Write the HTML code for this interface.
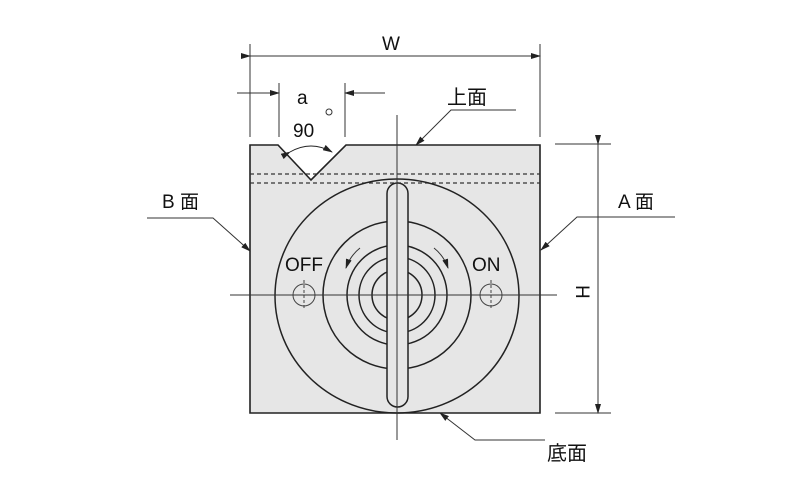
<!DOCTYPE html>
<html><head><style>
html,body{margin:0;padding:0;background:#fff;}
svg{display:block;}
text{font-family:"Liberation Sans","Noto Sans CJK JP",sans-serif;fill:#111;}
</style></head><body>
<svg width="798" height="502" viewBox="0 0 798 502" xmlns="http://www.w3.org/2000/svg">
<defs>
<marker id="ar" markerWidth="10" markerHeight="6" refX="9" refY="3" orient="auto" markerUnits="userSpaceOnUse">
<path d="M0,0 L10,3 L0,6 Z" fill="#222"/></marker>
</defs>
<!-- block -->
<path d="M250,145 L278,145 L311,180 L346,145 L540,145 L540,413 L250,413 Z" fill="#e6e6e6" stroke="#222" stroke-width="1.6"/>
<line x1="250" y1="174" x2="540" y2="174" stroke="#333" stroke-width="1.2" stroke-dasharray="4,3"/>
<line x1="250" y1="183" x2="540" y2="183" stroke="#333" stroke-width="1.2" stroke-dasharray="4,3"/>
<path d="M290,152 Q311,140 332,152" fill="none" stroke="#222" stroke-width="1" marker-start="url(#ar)" marker-end="url(#ar)"/>
<!-- circles -->
<ellipse cx="397" cy="296" rx="122" ry="117" fill="none" stroke="#222" stroke-width="1.5"/>
<circle cx="397" cy="295" r="74" fill="none" stroke="#222" stroke-width="1.5"/>
<circle cx="397" cy="295" r="50" fill="none" stroke="#222" stroke-width="1.5"/>
<circle cx="397" cy="295" r="38" fill="none" stroke="#222" stroke-width="1.5"/>
<circle cx="397" cy="295" r="25" fill="none" stroke="#222" stroke-width="1.5"/>
<rect x="387" y="183" width="21" height="224" rx="10.5" fill="#e6e6e6" stroke="#222" stroke-width="1.5"/>
<circle cx="304" cy="295" r="11" fill="none" stroke="#444" stroke-width="1"/>
<circle cx="491" cy="295" r="11" fill="none" stroke="#444" stroke-width="1"/>
<line x1="304" y1="280" x2="304" y2="310" stroke="#444" stroke-dasharray="3,2"/>
<line x1="491" y1="280" x2="491" y2="310" stroke="#444" stroke-dasharray="3,2"/>
<!-- center lines -->
<line x1="230" y1="295" x2="557" y2="295" stroke="#333" stroke-width="1"/>
<line x1="397" y1="115" x2="397" y2="440" stroke="#333" stroke-width="1"/>
<!-- rotation arrows -->
<path d="M360,248 Q350,256 346,268" fill="none" stroke="#333" stroke-width="1" marker-end="url(#ar)"/>
<path d="M434,248 Q444,256 448,268" fill="none" stroke="#333" stroke-width="1" marker-end="url(#ar)"/>
<text x="285" y="271" font-size="19">OFF</text>
<text x="472" y="271" font-size="19">ON</text>
<!-- W -->
<line x1="250" y1="44" x2="250" y2="137" stroke="#333"/>
<line x1="540" y1="44" x2="540" y2="137" stroke="#333"/>
<line x1="250" y1="56" x2="540" y2="56" stroke="#333" marker-start="url(#ar)" marker-end="url(#ar)"/>
<text x="382" y="50" font-size="19">W</text>
<!-- a -->
<line x1="279" y1="83" x2="279" y2="137" stroke="#333"/>
<line x1="345" y1="83" x2="345" y2="137" stroke="#333"/>
<line x1="237" y1="93" x2="279" y2="93" stroke="#333" marker-end="url(#ar)"/>
<line x1="385" y1="93" x2="345" y2="93" stroke="#333" marker-end="url(#ar)"/>
<text x="297" y="104" font-size="19">a</text>
<text x="293" y="137" font-size="19">90</text>
<circle cx="329" cy="112" r="3" fill="none" stroke="#333"/>
<!-- 上面 -->
<text x="447" y="104" font-size="20">上面</text>
<polyline points="516,110 451,110 416,145" fill="none" stroke="#333" marker-end="url(#ar)"/>
<!-- B 面 -->
<text x="162" y="208" font-size="19">B 面</text>
<polyline points="147,218 213,218 250,251" fill="none" stroke="#333" marker-end="url(#ar)"/>
<!-- A 面 -->
<text x="618" y="208" font-size="19">A 面</text>
<polyline points="675,217 577,217 541,250" fill="none" stroke="#333" marker-end="url(#ar)"/>
<!-- H -->
<line x1="555" y1="144" x2="611" y2="144" stroke="#333"/>
<line x1="555" y1="413" x2="611" y2="413" stroke="#333"/>
<line x1="598" y1="144" x2="598" y2="413" stroke="#333" marker-start="url(#ar)" marker-end="url(#ar)"/>
<text x="0" y="0" font-size="19" transform="translate(576,285) rotate(90)">H</text>
<!-- 底面 -->
<polyline points="545,440 475,440 440,413" fill="none" stroke="#333" marker-end="url(#ar)"/>
<text x="547" y="460" font-size="20">底面</text>
</svg>
</body></html>
